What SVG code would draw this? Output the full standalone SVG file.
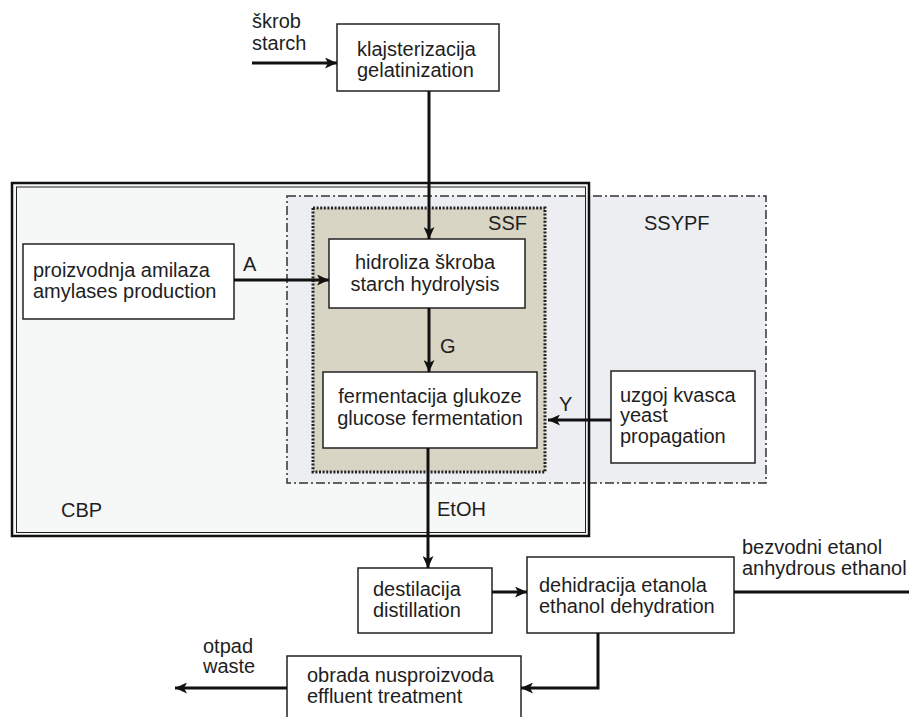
<svg xmlns="http://www.w3.org/2000/svg" width="909" height="717" viewBox="0 0 909 717">
<style>
text{font-family:"Liberation Sans",Arial,sans-serif;font-size:20px;fill:#1e1e1e}
.box{fill:#fff;stroke:#222;stroke-width:1.5}
.c{text-anchor:middle}
.ln{fill:none;stroke:#111;stroke-width:3}
</style>
<defs>
<marker id="ah" markerUnits="userSpaceOnUse" markerWidth="13" markerHeight="11" refX="12" refY="5.5" orient="auto">
<path d="M0,0 L12,5.5 L0,11 L3,5.5 z" fill="#111"/>
</marker>
</defs>
<rect width="909" height="717" fill="#fff"/>

<g id="cbp-bg">
<rect x="12" y="183" width="577" height="353" fill="#f6f7f7"/>
</g>
<g id="ssypf">
<rect x="287" y="196" width="479" height="287" fill="#eceef1" stroke="#333" stroke-width="1.5" stroke-dasharray="9 3 2 3"/>
<text x="644" y="230">SSYPF</text>
</g>
<g id="ssf">
<rect x="313" y="208" width="232" height="264" fill="#d9d5c4" stroke="#222" stroke-width="3" stroke-dasharray="2 1.6"/>
<text x="527" y="230" text-anchor="end">SSF</text>
</g>
<g id="cbp">
<rect x="12" y="183" width="577" height="353" fill="none" stroke="#111" stroke-width="2.5"/>
<rect x="16.5" y="187" width="569" height="345.5" fill="none" stroke="#222" stroke-width="1"/>
<text x="61" y="517">CBP</text>
</g>

<g id="gelatinization">
<rect class="box" x="337" y="24" width="162" height="67"/>
<text x="357" y="56">klajsterizacija</text>
<text x="357" y="77">gelatinization</text>
</g>
<g id="starch">
<text x="252" y="28">škrob</text>
<text x="252" y="50">starch</text>
</g>
<g id="amylases">
<rect class="box" x="23" y="244" width="211" height="75"/>
<text x="33" y="277">proizvodnja amilaza</text>
<text x="33" y="298">amylases production</text>
</g>
<g id="hydrolysis">
<rect class="box" x="329" y="239" width="196" height="69"/>
<text class="c" x="425" y="269">hidroliza škroba</text>
<text class="c" x="425" y="291">starch hydrolysis</text>
</g>
<g id="fermentation">
<rect class="box" x="323" y="372" width="214" height="76"/>
<text class="c" x="430" y="403">fermentacija glukoze</text>
<text class="c" x="430" y="425">glucose fermentation</text>
</g>
<g id="yeast">
<rect class="box" x="611" y="371" width="144" height="92"/>
<text x="620" y="402">uzgoj kvasca</text>
<text x="620" y="422">yeast</text>
<text x="620" y="443">propagation</text>
</g>
<g id="distillation">
<rect class="box" x="358" y="568" width="134" height="65"/>
<text x="373" y="596">destilacija</text>
<text x="373" y="617">distillation</text>
</g>
<g id="dehydration">
<rect class="box" x="527" y="557" width="207" height="76"/>
<text x="539" y="592">dehidracija etanola</text>
<text x="539" y="613">ethanol dehydration</text>
</g>
<g id="anhydrous">
<text x="742" y="554">bezvodni etanol</text>
<text x="742" y="575">anhydrous ethanol</text>
</g>
<g id="effluent">
<rect class="box" x="287" y="656" width="234" height="75"/>
<text x="307" y="682">obrada nusproizvoda</text>
<text x="307" y="703">effluent treatment</text>
</g>
<g id="waste">
<text x="203" y="653">otpad</text>
<text x="203" y="673">waste</text>
</g>

<g id="connectors">
<path class="ln" d="M252,63 H337" marker-end="url(#ah)"/>
<path class="ln" d="M429,91 V239" marker-end="url(#ah)"/>
<path class="ln" d="M234,280 H329" marker-end="url(#ah)"/>
<path class="ln" d="M429,308 V372" marker-end="url(#ah)"/>
<path class="ln" d="M611,420 H548" marker-end="url(#ah)"/>
<path class="ln" d="M428,448 V568" marker-end="url(#ah)"/>
<path class="ln" d="M492,592 H527" marker-end="url(#ah)"/>
<path class="ln" d="M734,592 H909" stroke-width="4"/>
<path class="ln" d="M598,633 V688 H521" marker-end="url(#ah)"/>
<path class="ln" d="M287,688 H175" marker-end="url(#ah)"/>
<text x="243" y="271">A</text>
<text x="440" y="353">G</text>
<text x="559" y="411">Y</text>
<text x="437" y="516">EtOH</text>
</g>
</svg>
